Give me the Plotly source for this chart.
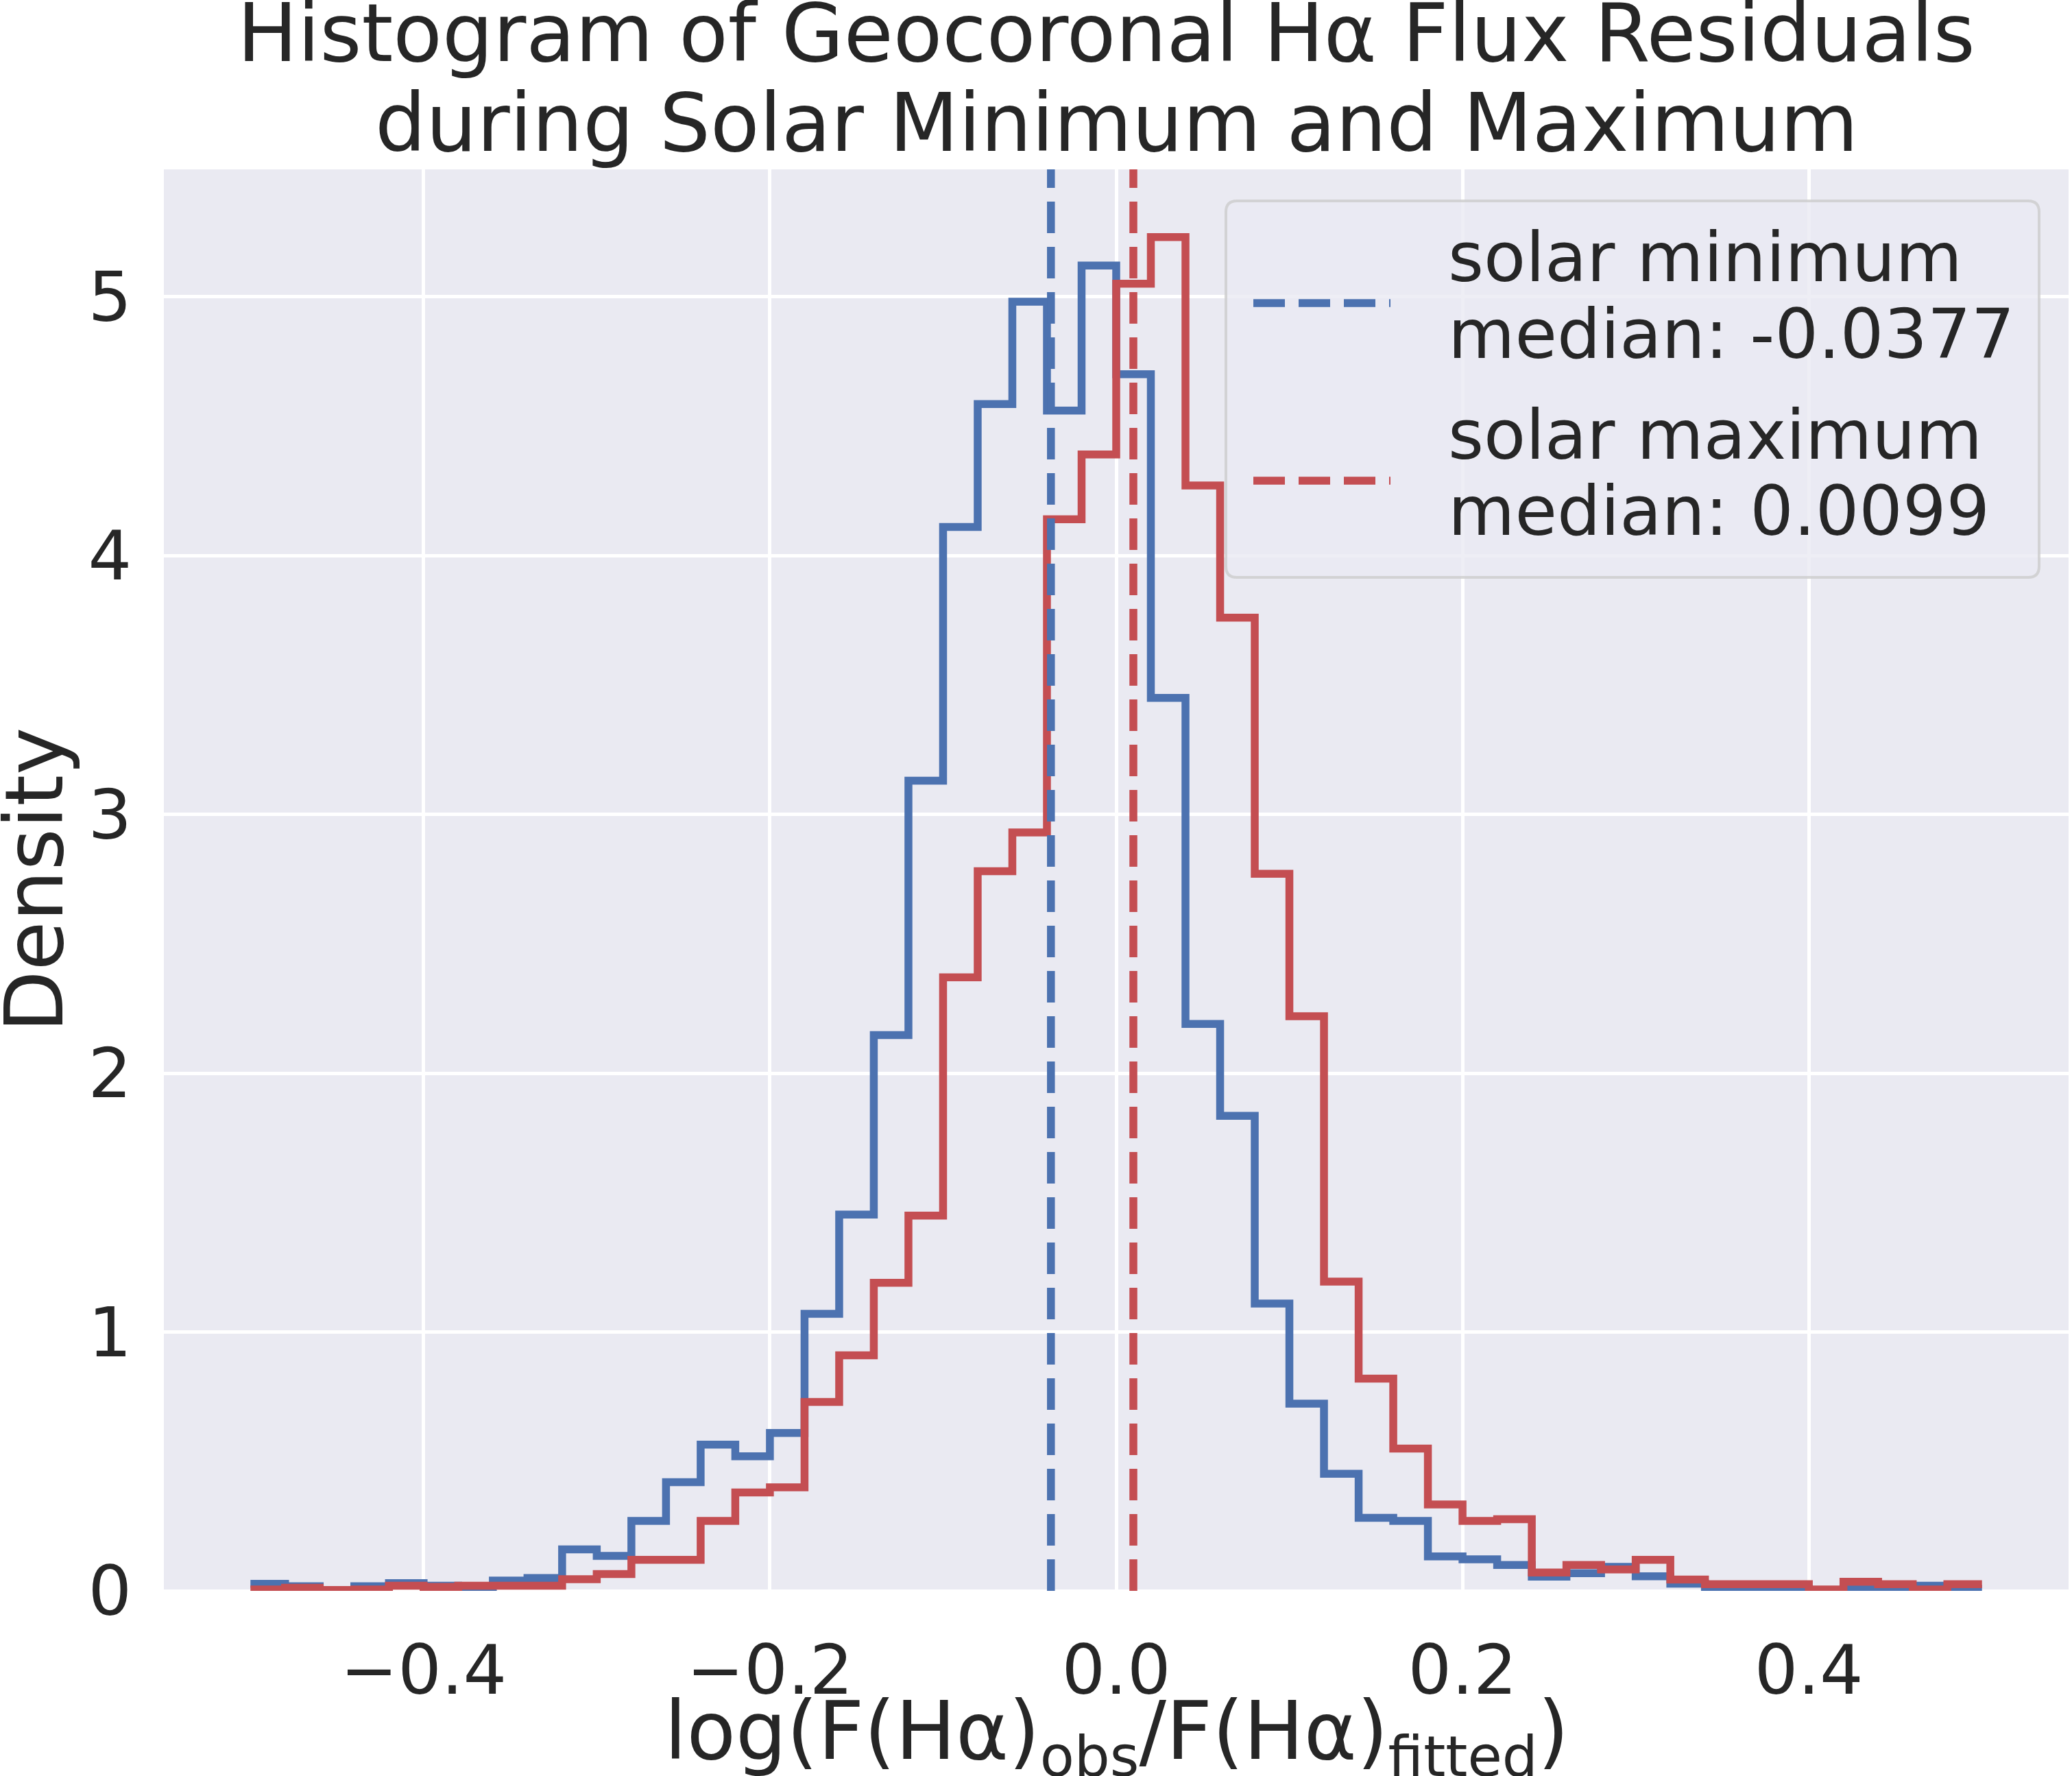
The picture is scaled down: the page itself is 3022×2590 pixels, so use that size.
import numpy as np
import plotly.graph_objects as go

# ---------------- data ----------------
bin_start = -0.5
bin_width = 0.02
n_bins = 50

solar_min_density = [
    0.027, 0.018, 0.0, 0.018, 0.03, 0.02, 0.0, 0.04, 0.05, 0.16,
    0.135, 0.27, 0.42, 0.565, 0.52, 0.61, 1.07, 1.454, 2.147, 3.13,
    4.11, 4.585, 4.98, 4.56, 5.12, 4.70, 3.45, 2.19, 1.835, 1.11,
    0.723, 0.452, 0.282, 0.27, 0.133, 0.122, 0.10, 0.055, 0.068, 0.093,
    0.056, 0.028, 0.008, 0.008, 0.008, 0.003, 0.008, 0.008, 0.02, 0.008,
]
solar_max_density = [
    0.005, 0.012, 0.003, 0.005, 0.02, 0.015, 0.02, 0.02, 0.02, 0.045,
    0.065, 0.12, 0.12, 0.27, 0.38, 0.40, 0.73, 0.91, 1.19, 1.45,
    2.37, 2.78, 2.93, 4.14, 4.39, 5.05, 5.23, 4.27, 3.76, 2.77,
    2.22, 1.195, 0.82, 0.55, 0.334, 0.27, 0.277, 0.071, 0.10, 0.083,
    0.12, 0.044, 0.026, 0.026, 0.026, 0.005, 0.035, 0.026, 0.005, 0.026,
]
series_names = ["solar minimum", "solar maximum"]
median_values = [-0.0377, 0.0099]
median_labels = ["median: -0.0377", "median: 0.0099"]

x_tick_vals = [-0.4, -0.2, 0.0, 0.2, 0.4]
x_tick_text = ["\u22120.4", "\u22120.2", "0.0", "0.2", "0.4"]
y_tick_vals = [0, 1, 2, 3, 4, 5]
y_tick_text = ["0", "1", "2", "3", "4", "5"]

title_lines = ["Histogram of Geocoronal H\u03b1 Flux Residuals",
               "during Solar Minimum and Maximum"]
x_title = "log(F(H\u03b1)<sub>obs</sub>/F(H\u03b1)<sub>fitted</sub>)"
y_title = "Density"

# ---------------- style ----------------
W, H = 3022, 2590
ML, MR, MT, MB = 239, 5, 247, 270
PW, PH = W - ML - MR, H - MT - MB
colors = ["#4C72B0", "#C44E52"]
text_color = "#262626"
font_family = "DejaVu Sans"
big_font = 117
small_font = 100
lw = 11.5
dash = "46px,20px"


def px_x(px):
    return (px - ML) / PW


def px_y(py):
    return (H - MB - py) / PH


edges = bin_start + bin_width * np.arange(n_bins + 1)
y_max = max(max(solar_min_density), max(solar_max_density)) * 1.05

fig = go.Figure()
for name, vals, col in zip(series_names, [solar_min_density, solar_max_density], colors):
    fig.add_trace(go.Scatter(
        x=edges, y=list(vals) + [vals[-1]], mode="lines", name=name,
        line=dict(shape="hv", color=col, width=lw), showlegend=False,
    ))

shapes = []
for med, col in zip(median_values, colors):
    shapes.append(dict(type="line", xref="x", yref="paper", x0=med, x1=med,
                       y0=0, y1=1, line=dict(color=col, width=lw, dash=dash),
                       layer="above"))

# legend box (rounded)
bx0, bx1 = px_x(1788), px_x(2974)
by1, by0 = px_y(293), px_y(842)
rx, ry = 16 / PW, 16 / PH
path = (f"M {bx0+rx},{by0} L {bx1-rx},{by0} Q {bx1},{by0} {bx1},{by0+ry} "
        f"L {bx1},{by1-ry} Q {bx1},{by1} {bx1-rx},{by1} L {bx0+rx},{by1} "
        f"Q {bx0},{by1} {bx0},{by1-ry} L {bx0},{by0+ry} Q {bx0},{by0} {bx0+rx},{by0} Z")
shapes.append(dict(type="path", xref="paper", yref="paper", path=path,
                   fillcolor="rgba(234,234,242,0.8)",
                   line=dict(color="rgba(204,204,204,0.8)", width=4), layer="above"))

legend_line_y = [442, 701]
legend_text_y = [(375.4, 487.4), (634.4, 745.4)]
annotations = []
for i, col in enumerate(colors):
    shapes.append(dict(type="line", xref="paper", yref="paper",
                       x0=px_x(1828), x1=px_x(2028),
                       y0=px_y(legend_line_y[i]), y1=px_y(legend_line_y[i]),
                       line=dict(color=col, width=lw, dash=dash), layer="above"))
    for txt, ty in zip([series_names[i], median_labels[i]], legend_text_y[i]):
        annotations.append(dict(text=txt, xref="paper", yref="paper",
                                x=px_x(2110), y=px_y(ty), xanchor="left",
                                yanchor="middle", showarrow=False,
                                font=dict(size=small_font, color=text_color,
                                          family=font_family)))

# title lines
for txt, tx, ty in zip(title_lines, [1613, 1628], [48.5, 179.5]):
    annotations.append(dict(text=txt, xref="paper", yref="paper", x=px_x(tx),
                            y=px_y(ty), xanchor="center", yanchor="middle",
                            showarrow=False,
                            font=dict(size=big_font, color=text_color, family=font_family)))
# axis titles
annotations.append(dict(text=x_title, xref="paper", yref="paper", x=0.5,
                        y=px_y(2532), xanchor="center", yanchor="middle",
                        showarrow=False,
                        font=dict(size=big_font, color=text_color, family=font_family)))
annotations.append(dict(text=y_title, xref="paper", yref="paper", x=px_x(49.5),
                        y=px_y(1283), xanchor="center", yanchor="middle",
                        textangle=-90, showarrow=False,
                        font=dict(size=big_font, color=text_color, family=font_family)))

fig.update_layout(
    width=W, height=H,
    margin=dict(l=ML, r=MR, t=MT, b=MB, pad=0),
    paper_bgcolor="white", plot_bgcolor="#EAEAF2",
    font=dict(family=font_family, color=text_color, size=small_font),
    shapes=shapes, annotations=annotations, showlegend=False,
)
fig.update_xaxes(range=[-0.55, 0.55], tickvals=x_tick_vals, ticktext=x_tick_text,
                 showgrid=True, gridcolor="white", gridwidth=4.5,
                 zeroline=True, zerolinecolor="white", zerolinewidth=4.5,
                 showline=False, ticks="", ticklabelstandoff=49,
                 tickfont=dict(size=small_font, color=text_color, family=font_family))
fig.update_yaxes(range=[0, y_max], tickvals=y_tick_vals, ticktext=y_tick_text,
                 showgrid=True, gridcolor="white", gridwidth=4.5,
                 zeroline=True, zerolinecolor="white", zerolinewidth=4.5,
                 showline=False, ticks="", ticklabelstandoff=46,
                 tickfont=dict(size=small_font, color=text_color, family=font_family))

fig.write_html("out.html")
